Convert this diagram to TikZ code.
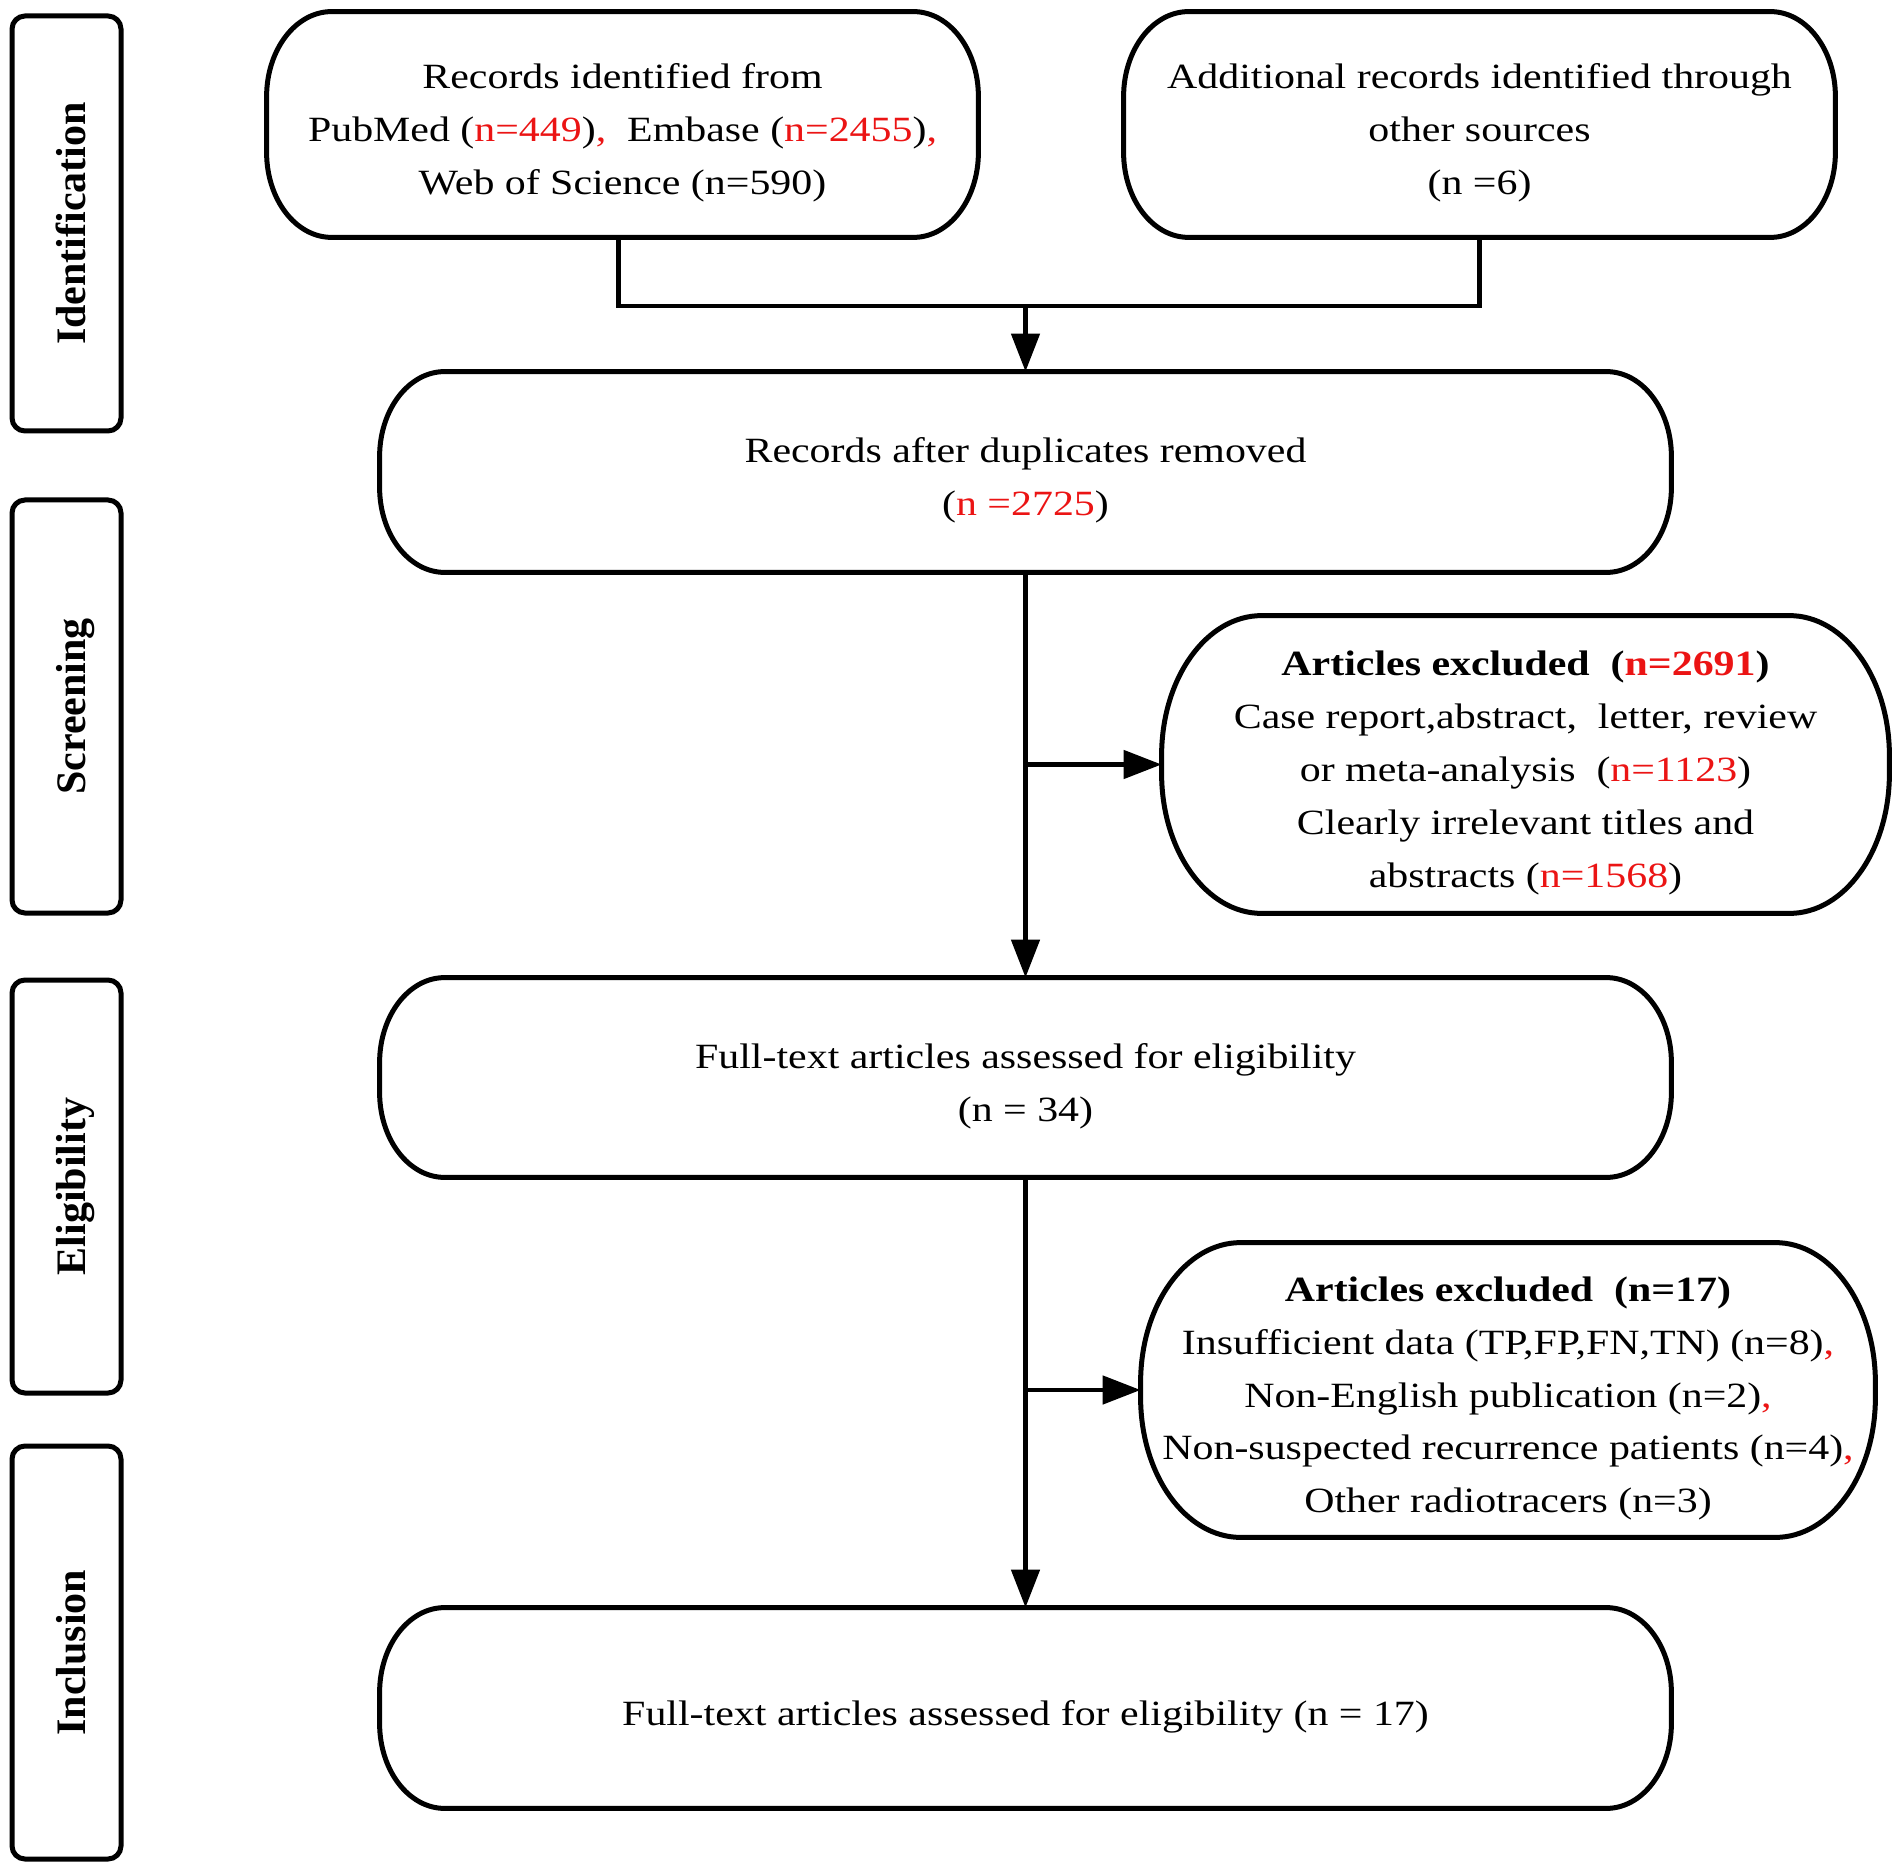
\documentclass[tikz,border=0pt]{standalone}
\usepackage{fontspec}
\setmainfont{Liberation Serif}[FakeStretch=1.18]
\newfontfamily\sidefont{Liberation Serif}
\usetikzlibrary{arrows.meta}
\definecolor{nred}{RGB}{235,20,20}
\newcommand\nr[1]{\textcolor{nred}{#1}}
\newcommand\ovalframe[3]{%
  \draw[line width=2.5pt] ([xshift=#2]#1.north west) -- ([xshift=-#2]#1.north east)
    arc[start angle=90,end angle=0,x radius=#2,y radius=#3]
    -- ([yshift=#3]#1.south east)
    arc[start angle=0,end angle=-90,x radius=#2,y radius=#3]
    -- ([xshift=#2]#1.south west)
    arc[start angle=-90,end angle=-180,x radius=#2,y radius=#3]
    -- ([yshift=-#3]#1.north west)
    arc[start angle=180,end angle=90,x radius=#2,y radius=#3] -- cycle;}
\begin{document}
\begin{tikzpicture}[x=0.5pt,y=-0.5pt,
  frame/.style={draw=none, inner sep=0pt},
  body/.style={draw=none, inner sep=0pt, align=center, font=\fontsize{17.75}{26.4}\selectfont},
  side/.style={draw, rounded corners=6.5pt, line width=2.5pt, inner sep=0pt, minimum width=54.5pt},
  sidetext/.style={rotate=90, anchor=base, inner sep=0pt, font=\sidefont\bfseries\fontsize{21}{25}\selectfont},
  conn/.style={line width=2.4pt},
  arr/.style={conn, -{Triangle[length=19pt,width=14pt]}}]
\useasboundingbox (0,0) rectangle (1902,1872);

% stage labels
\node[side, minimum height=207.5pt] (idf) at (66.5,223.5) {};
\node[sidetext] (idft) at (85,223.5) {Identification};
\node[side, minimum height=206.5pt] (scr) at (66.5,706.5) {};
\node[sidetext] (scrt) at (85,706.5) {Screening};
\node[side, minimum height=206.5pt] (elg) at (66.5,1186.5) {};
\node[sidetext] (elgt) at (85,1186.5) {Eligibility};
\node[side, minimum height=206.5pt] (inc) at (66.5,1652.5) {};
\node[sidetext] (inct) at (85,1652.5) {Inclusion};

% box frames
\node[frame, minimum width=355.5pt, minimum height=112.5pt] (rec) at (622.5,124.5) {};
\node[frame, minimum width=355.5pt, minimum height=112.5pt] (add) at (1479.5,124.5) {};
\node[frame, minimum width=645.5pt, minimum height=100pt] (dup) at (1025.5,472) {};
\node[frame, minimum width=363.5pt, minimum height=148.5pt] (ex1) at (1525.5,764.5) {};
\node[frame, minimum width=645.5pt, minimum height=99.5pt] (full) at (1025.5,1077.5) {};
\node[frame, minimum width=367pt, minimum height=147pt] (ex2) at (1508,1390) {};
\node[frame, minimum width=645.5pt, minimum height=100pt] (incl) at (1025.5,1708) {};

% box texts
\node[body] (rect) at ([yshift=-4.25pt]rec.center)
  {Records identified from\\PubMed (\nr{n=449})\nr{,}\ \ Embase (\nr{n=2455})\nr{,}\\Web of Science (n=590)};
\node[body] (addt) at ([yshift=-4.25pt]add.center)
  {Additional records identified through\\other sources\\(n =6)};
\node[body] (dupt) at ([yshift=-4.25pt]dup.center)
  {Records after duplicates removed\\(\nr{n =2725})};
\node[body] (ex1t) at ([yshift=-4.25pt]ex1.center)
  {\textbf{Articles excluded\ \ (\nr{n=2691})}\\Case report,abstract,\ \ letter, review\\or meta-analysis\ \ (\nr{n=1123})\\Clearly irrelevant titles and\\abstracts (\nr{n=1568})};
\node[body] (fullt) at ([yshift=-4.25pt]full.center)
  {Full-text articles assessed for eligibility\\(n = 34)};
\node[body] (ex2t) at ([yshift=-4.25pt]ex2.center)
  {\textbf{Articles excluded\ \ (n=17)}\\Insufficient data (TP,FP,FN,TN) (n=8)\nr{,}\\Non-English publication (n=2)\nr{,}\\Non-suspected recurrence patients (n=4)\nr{,}\\Other radiotracers (n=3)};
\node[body] (inclt) at ([yshift=-4.25pt]incl.center)
  {Full-text articles assessed for eligibility (n = 17)};

\ovalframe{rec}{32.5pt}{42.5pt}
\ovalframe{add}{32.5pt}{42.5pt}
\ovalframe{dup}{32.5pt}{42.5pt}
\ovalframe{full}{32.5pt}{42.5pt}
\ovalframe{incl}{32.5pt}{42.5pt}
\ovalframe{ex1}{50pt}{70pt}
\ovalframe{ex2}{50pt}{70pt}

% connectors
\coordinate (j) at (1025.5,306);
\draw[conn] ([xshift=-2pt]rec.south) |- (j) -| (add.south);
\draw[arr] (j) -- (dup.north);
\draw[arr] (dup.south) -- (full.north);
\draw[arr] (dup.south |- ex1.west) -- (ex1.west);
\draw[arr] (full.south) -- (incl.north);
\draw[arr] (full.south |- ex2.west) -- (ex2.west);
\end{tikzpicture}
\end{document}
